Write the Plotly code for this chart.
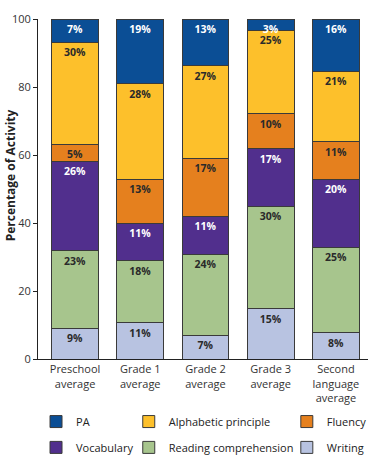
import plotly.graph_objects as go

categories = ["Preschool<br>average", "Grade 1<br>average", "Grade 2<br>average",
              "Grade 3<br>average", "Second<br>language<br>average"]

# Segment heights (percent of activity)
writing = [9.0, 10.7, 7.0, 14.8, 7.7]
reading_comp = [22.8, 18.2, 23.8, 30.1, 25.1]
vocabulary = [26.3, 11.1, 11.2, 17.0, 20.0]
fluency = [5.0, 12.8, 17.0, 10.2, 11.1]
alphabetic = [30.0, 28.1, 27.2, 24.6, 20.8]
pa = [6.9, 19.1, 13.8, 3.3, 15.3]

# Printed labels
writing_lbl = [9, 11, 7, 15, 8]
reading_lbl = [23, 18, 24, 30, 25]
vocab_lbl = [26, 11, 11, 17, 20]
fluency_lbl = [5, 13, 17, 10, 11]
alpha_lbl = [30, 28, 27, 25, 21]
pa_lbl = [7, 19, 13, 3, 16]

y_ticks = [0, 20, 40, 60, 80, 100]

series = [
    ("Writing", writing, writing_lbl, "#b8c3e1", "#2a2a2a", "legend6"),
    ("Reading comprehension", reading_comp, reading_lbl, "#a7c58d", "#2a2a2a", "legend5"),
    ("Vocabulary", vocabulary, vocab_lbl, "#512f8d", "#ffffff", "legend4"),
    ("Fluency", fluency, fluency_lbl, "#e5801e", "#2a2a2a", "legend3"),
    ("Alphabetic principle", alphabetic, alpha_lbl, "#fdc02b", "#2a2a2a", "legend2"),
    ("PA", pa, pa_lbl, "#0b4e95", "#ffffff", "legend"),
]

FONT = "Open Sans"
fig = go.Figure()
for name, vals, lbls, color, tcolor, leg in series:
    fig.add_trace(go.Bar(
        x=categories, y=vals, name=name,
        marker=dict(color=color, line=dict(color="#3a3a3a", width=1)),
        text=[f"{v}%" for v in lbls],
        textposition="inside", insidetextanchor="end",
        textfont=dict(color=tcolor, size=10.5, family=FONT, weight="bold"),
        legend=leg, hoverinfo="skip",
    ))

def leg(x, y):
    return dict(x=x, y=y, xanchor="left", yanchor="middle", bgcolor="rgba(0,0,0,0)",
                visible=True, font=dict(family=FONT, size=11, color="#222"), itemwidth=30)

fig.update_layout(
    width=379, height=469,
    margin=dict(l=38, r=7, t=19, b=108),
    barmode="stack", bargap=0.28, showlegend=True,
    plot_bgcolor="white", paper_bgcolor="white",
    font=dict(family=FONT, color="#333"),
    uniformtext=dict(minsize=10.5, mode="show"),
    legend=leg(-0.006, -0.184),
    legend2=leg(0.275, -0.184),
    legend3=leg(0.754, -0.184),
    legend4=leg(-0.006, -0.260),
    legend5=leg(0.275, -0.260),
    legend6=leg(0.754, -0.260),
    xaxis=dict(range=[-0.568, 4.492], showline=True, linecolor="#222", linewidth=1,
               ticks="", automargin=False,
               tickfont=dict(size=11, color="#333", family=FONT)),
    yaxis=dict(range=[0, 100], tickvals=y_ticks, showgrid=False, automargin=False,
               zeroline=False, showline=True, linecolor="#222", linewidth=1,
               ticks="outside", ticklen=4, tickcolor="#222",
               tickfont=dict(size=11, color="#333", family=FONT)),
    annotations=[dict(text="<b>Percentage of Activity</b>", textangle=-90,
                      xref="paper", yref="paper", x=-0.084, y=0.541,
                      xanchor="center", yanchor="middle", showarrow=False,
                      font=dict(size=12, color="#222", family=FONT))],
)

fig.write_html("out.html", config={"displayModeBar": False},
               post_script="document.body.style.margin='0';")
